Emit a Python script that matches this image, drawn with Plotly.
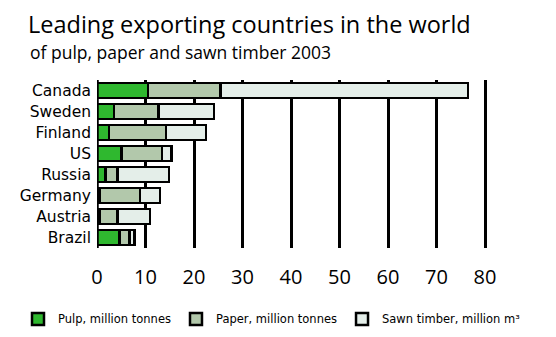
import plotly.graph_objects as go

countries = ["Canada", "Sweden", "Finland", "US", "Russia", "Germany", "Austria", "Brazil"]
pulp = [10.5, 3.5, 2.5, 5.0, 1.8, 0.5, 0.5, 4.6]
paper = [15.0, 9.2, 11.7, 8.4, 2.4, 8.4, 3.7, 2.1]
sawn = [51.0, 11.4, 8.3, 2.0, 10.6, 4.1, 6.7, 1.0]
series_names = ["Pulp, million tonnes", "Paper, million tonnes", "Sawn timber, million m³"]
tick_vals = [0, 10, 20, 30, 40, 50, 60, 70, 80]

W, H = 556, 337
ML, MR, MT, MB = 97, 4, 80, 77
PW, PH = W - ML - MR, H - MT - MB
X80 = 485  # pixel of value 80
XMAX = 80 * PW / (X80 - ML)
FONT = "Open Sans"
FONT2 = "DejaVu Sans"

colors = ["#2fb82f", "#b2c8ab", "#e4eee9"]
fig = go.Figure()
for name, vals, c in zip(series_names, [pulp, paper, sawn], colors):
    fig.add_trace(go.Bar(
        y=countries, x=vals, name=name, orientation="h",
        marker=dict(color=c, line=dict(color="black", width=2.5)),
        hoverinfo="skip",
    ))

fig.update_layout(
    width=W, height=H, barmode="stack", bargap=0.3,
    margin=dict(l=ML, r=MR, t=MT, b=MB),
    plot_bgcolor="white", paper_bgcolor="white",
    font=dict(family=FONT, color="black"),
    title=dict(text="Leading exporting countries in the world",
               xref="container", yref="container", x=28 / W, xanchor="left",
               y=1 - 25 / H, yanchor="middle", font=dict(size=23.5, family=FONT)),
    xaxis=dict(range=[0, XMAX], tickvals=tick_vals, showgrid=True, gridcolor="black",
               gridwidth=3, zeroline=False, showline=False, ticks="",
               tickfont=dict(size=20), ticklabelstandoff=15),
    yaxis=dict(autorange="reversed", showgrid=False, zeroline=False, showline=False,
               ticks="", tickfont=dict(size=15.5, family=FONT2), ticklabelstandoff=5),
    legend=dict(orientation="h", x=(18 - ML) / PW, xref="paper",
                y=-(336 - (MT + PH)) / PH, yref="paper", yanchor="middle", xanchor="left",
                font=dict(size=11.5, family=FONT2), traceorder="normal",
                itemwidth=30),
    showlegend=True,
)
fig.add_vline(x=0, line=dict(color="black", width=3.5), layer="above")
fig.add_annotation(text="of pulp, paper and sawn timber 2003", xref="paper", yref="paper",
                   x=-(ML - 28) / PW, xanchor="left",
                   y=1 + (MT - 50) / PH, yanchor="middle",
                   showarrow=False, font=dict(size=17.5, family=FONT))
fig.write_html("out.html")
